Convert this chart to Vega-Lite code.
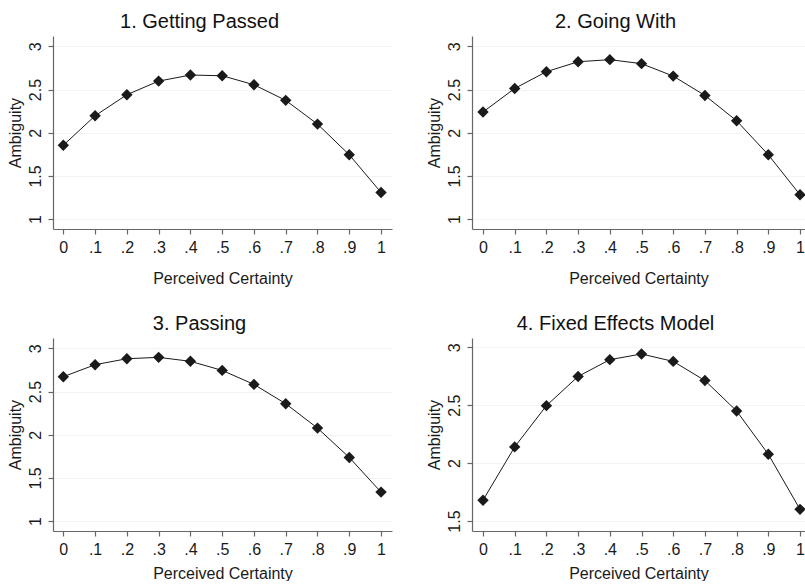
{
  "$schema": "https://vega.github.io/schema/vega-lite/v6.json",
  "background": "white",
  "padding": {"left": 7, "top": 12, "right": 0, "bottom": 0},
  "datasets": {
    "p1": [
      {"certainty": 0, "ambiguity": 1.855},
      {"certainty": 0.1, "ambiguity": 2.197},
      {"certainty": 0.2, "ambiguity": 2.44},
      {"certainty": 0.3, "ambiguity": 2.598},
      {"certainty": 0.4, "ambiguity": 2.668},
      {"certainty": 0.5, "ambiguity": 2.66},
      {"certainty": 0.6, "ambiguity": 2.556},
      {"certainty": 0.7, "ambiguity": 2.375},
      {"certainty": 0.8, "ambiguity": 2.1},
      {"certainty": 0.9, "ambiguity": 1.745},
      {"certainty": 1, "ambiguity": 1.309}
    ],
    "p2": [
      {"certainty": 0, "ambiguity": 2.24},
      {"certainty": 0.1, "ambiguity": 2.513},
      {"certainty": 0.2, "ambiguity": 2.707},
      {"certainty": 0.3, "ambiguity": 2.822},
      {"certainty": 0.4, "ambiguity": 2.846},
      {"certainty": 0.5, "ambiguity": 2.8},
      {"certainty": 0.6, "ambiguity": 2.656},
      {"certainty": 0.7, "ambiguity": 2.432},
      {"certainty": 0.8, "ambiguity": 2.139},
      {"certainty": 0.9, "ambiguity": 1.745},
      {"certainty": 1, "ambiguity": 1.282}
    ],
    "p3": [
      {"certainty": 0, "ambiguity": 2.672},
      {"certainty": 0.1, "ambiguity": 2.811},
      {"certainty": 0.2, "ambiguity": 2.88},
      {"certainty": 0.3, "ambiguity": 2.896},
      {"certainty": 0.4, "ambiguity": 2.85},
      {"certainty": 0.5, "ambiguity": 2.745},
      {"certainty": 0.6, "ambiguity": 2.583},
      {"certainty": 0.7, "ambiguity": 2.359},
      {"certainty": 0.8, "ambiguity": 2.077},
      {"certainty": 0.9, "ambiguity": 1.737},
      {"certainty": 1, "ambiguity": 1.336}
    ],
    "p4": [
      {"certainty": 0, "ambiguity": 1.68},
      {"certainty": 0.1, "ambiguity": 2.14},
      {"certainty": 0.2, "ambiguity": 2.496},
      {"certainty": 0.3, "ambiguity": 2.748},
      {"certainty": 0.4, "ambiguity": 2.893},
      {"certainty": 0.5, "ambiguity": 2.942},
      {"certainty": 0.6, "ambiguity": 2.878},
      {"certainty": 0.7, "ambiguity": 2.713},
      {"certainty": 0.8, "ambiguity": 2.45},
      {"certainty": 0.9, "ambiguity": 2.076},
      {"certainty": 1, "ambiguity": 1.601}
    ]
  },
  "columns": 2,
  "spacing": {"row": 109, "column": 80},
  "bounds": "flush",
  "concat": [
    {
      "title": "1. Getting Passed",
      "width": 339, "height": 193,
      "data": {"name": "p1"},
      "encoding": {
        "x": {"field": "certainty", "type": "quantitative", "title": "Perceived Certainty",
          "scale": {"domain": [-0.0325, 1.0345], "nice": false, "zero": false},
          "axis": {"values": [0, 0.1, 0.2, 0.3, 0.4, 0.5, 0.6, 0.7, 0.8, 0.9, 1], "titlePadding": 15}},
        "y": {"field": "ambiguity", "type": "quantitative", "title": "Ambiguity",
          "scale": {"domain": [0.886, 3.12], "nice": false, "zero": false},
          "axis": {"values": [1, 1.5, 2, 2.5, 3]}}
      },
      "layer": [
        {"mark": {"type": "line", "color": "#1a1a1a", "strokeWidth": 1}},
        {"mark": {"type": "point", "shape": "diamond", "filled": true, "size": 130, "color": "#1a1a1a", "opacity": 1}}
      ]
    },
    {
      "title": "2. Going With",
      "width": 333, "height": 193,
      "data": {"name": "p2"},
      "encoding": {
        "x": {"field": "certainty", "type": "quantitative", "title": "Perceived Certainty",
          "scale": {"domain": [-0.0347, 1.0157], "nice": false, "zero": false},
          "axis": {"values": [0, 0.1, 0.2, 0.3, 0.4, 0.5, 0.6, 0.7, 0.8, 0.9, 1], "titlePadding": 15}},
        "y": {"field": "ambiguity", "type": "quantitative", "title": "Ambiguity",
          "scale": {"domain": [0.886, 3.12], "nice": false, "zero": false},
          "axis": {"values": [1, 1.5, 2, 2.5, 3]}}
      },
      "layer": [
        {"mark": {"type": "line", "color": "#1a1a1a", "strokeWidth": 1, "clip": true}},
        {"mark": {"type": "point", "shape": "diamond", "filled": true, "size": 130, "color": "#1a1a1a", "opacity": 1, "clip": true}}
      ]
    },
    {
      "title": "3. Passing",
      "width": 339, "height": 193,
      "data": {"name": "p3"},
      "encoding": {
        "x": {"field": "certainty", "type": "quantitative", "title": "Perceived Certainty",
          "scale": {"domain": [-0.0325, 1.0345], "nice": false, "zero": false},
          "axis": {"values": [0, 0.1, 0.2, 0.3, 0.4, 0.5, 0.6, 0.7, 0.8, 0.9, 1], "titlePadding": 8}},
        "y": {"field": "ambiguity", "type": "quantitative", "title": "Ambiguity",
          "scale": {"domain": [0.886, 3.12], "nice": false, "zero": false},
          "axis": {"values": [1, 1.5, 2, 2.5, 3]}}
      },
      "layer": [
        {"mark": {"type": "line", "color": "#1a1a1a", "strokeWidth": 1}},
        {"mark": {"type": "point", "shape": "diamond", "filled": true, "size": 130, "color": "#1a1a1a", "opacity": 1}}
      ]
    },
    {
      "title": "4. Fixed Effects Model",
      "width": 333, "height": 193,
      "data": {"name": "p4"},
      "encoding": {
        "x": {"field": "certainty", "type": "quantitative", "title": "Perceived Certainty",
          "scale": {"domain": [-0.0347, 1.0157], "nice": false, "zero": false},
          "axis": {"values": [0, 0.1, 0.2, 0.3, 0.4, 0.5, 0.6, 0.7, 0.8, 0.9, 1], "titlePadding": 8}},
        "y": {"field": "ambiguity", "type": "quantitative", "title": "Ambiguity",
          "scale": {"domain": [1.414, 3.08], "nice": false, "zero": false},
          "axis": {"values": [1.5, 2, 2.5, 3]}}
      },
      "layer": [
        {"mark": {"type": "line", "color": "#1a1a1a", "strokeWidth": 1, "clip": true}},
        {"mark": {"type": "point", "shape": "diamond", "filled": true, "size": 130, "color": "#1a1a1a", "opacity": 1, "clip": true}}
      ]
    }
  ],
  "config": {
    "font": "Liberation Sans",
    "view": {"stroke": null},
    "title": {"font": "Liberation Sans", "fontSize": 20, "fontWeight": "normal", "color": "#111111", "anchor": "middle", "frame": "bounds", "offset": 4},
    "axis": {
      "labelFont": "Liberation Sans", "labelFontSize": 16, "labelColor": "#1a1a1a",
      "titleFont": "Liberation Sans", "titleFontSize": 16, "titleFontWeight": "normal", "titleColor": "#1a1a1a",
      "domainColor": "#666666", "domainWidth": 1.2, "tickColor": "#666666", "tickSize": 5, "tickWidth": 1.2,
      "gridColor": "#f3f3f3", "gridWidth": 1
    },
    "axisX": {"grid": false, "labelPadding": 5, "labelFlush": false,
      "labelExpr": "datum.value == 0 ? '0' : datum.value == 1 ? '1' : replace(format(datum.value, '.1f'), '0.', '.')"},
    "axisY": {"grid": true, "labelAngle": -90, "labelPadding": 5, "titlePadding": 4, "labelFlush": false,
      "labelExpr": "format(datum.value, '~g')"}
  }
}
